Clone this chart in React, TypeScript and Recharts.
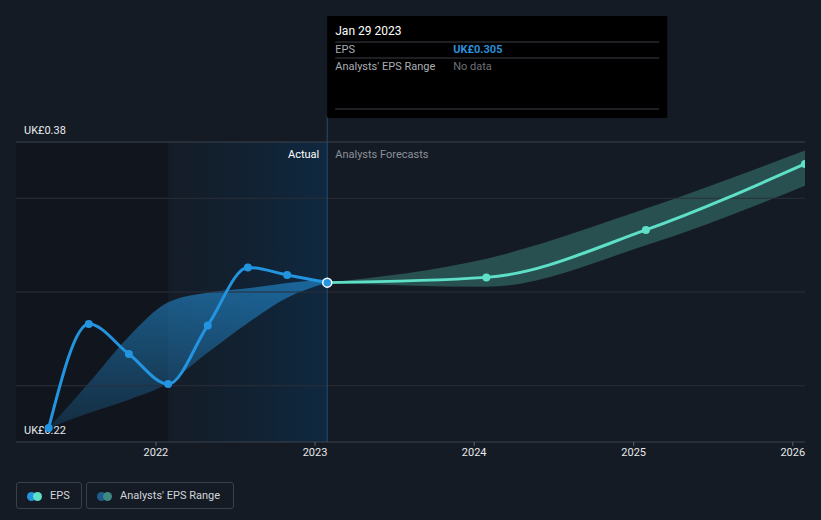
import React from 'react';
import { ComposedChart, Line, Area, XAxis, YAxis, ReferenceLine, ReferenceArea } from 'recharts';

// ---- data ----
const actualDates = ['2021-04-30', '2021-07-31', '2021-10-31', '2022-01-29', '2022-04-30', '2022-07-31', '2022-10-29', '2023-01-29'];
const actualEps = [0.2275, 0.2829, 0.2669, 0.2509, 0.2822, 0.3131, 0.3091, 0.305];
const actualRangeLow = [0.2275, 0.2355, 0.2426, 0.2515, 0.2678, 0.2835, 0.2970, 0.305];
const actualRangeHigh = [0.2275, 0.2515, 0.2763, 0.2945, 0.2996, 0.3020, 0.3048, 0.307];

const forecastDates = ['2023-01-29', '2024-01-29', '2025-01-29', '2026-01-29'];
const forecastEps = [0.305, 0.3078, 0.3331, 0.3683];
const forecastLow = [0.305, 0.3028, 0.3249, 0.3567];
const forecastHigh = [0.305, 0.3178, 0.3445, 0.3755];

const yearTicks = ['2022-01-01', '2023-01-01', '2024-01-01', '2025-01-01', '2026-01-01'];
const gridValues = [0.25, 0.3, 0.35];
const yTop = 0.38;
const yBottom = 0.22;
const xStart = '2021-02-14';
const xEnd = '2026-01-29';
const pastShadeStart = '2022-01-29';
const todayDate = '2023-01-29';

const ts = (d: string) => Date.parse(d + 'T00:00:00Z');

type Row = { t: number; eps?: number; fc?: number; actRange?: [number, number]; fcRange?: [number, number] };

const rowMap = new Map<number, Row>();
const getRow = (d: string) => {
  const t = ts(d);
  if (!rowMap.has(t)) rowMap.set(t, { t });
  return rowMap.get(t)!;
};
actualDates.forEach((d, i) => {
  const r = getRow(d);
  r.eps = actualEps[i];
  r.actRange = [actualRangeLow[i], actualRangeHigh[i]];
});
forecastDates.forEach((d, i) => {
  const r = getRow(d);
  r.fc = forecastEps[i];
  r.fcRange = [forecastLow[i], forecastHigh[i]];
});
const data = Array.from(rowMap.values()).sort((a, b) => a.t - b.t);

const FONT = 'Roboto, "Noto Sans", sans-serif';
const BLUE = '#2394df';
const TEAL = '#5ee0c8';
const BG = '#151b24';

const YLabel = (props: any) => {
  const vb = props.viewBox || {};
  return (
    <text x={vb.x + 8} y={vb.y - 8} fill="#e8eaee" fontSize={11} fontFamily={FONT}>
      {props.text}
    </text>
  );
};

const TodayMarker = (props: any) => {
  const vb = props.viewBox || {};
  const x = vb.x;
  const top = vb.y;
  const by = top - 126;
  return (
    <g fontFamily={FONT}>
      <line x1={x} x2={x} y1={by + 100} y2={top} stroke="#1f4e75" strokeWidth={1} />
      <text x={x - 8} y={top + 16} fill="#ffffff" fontSize={11} textAnchor="end">Actual</text>
      <text x={x + 8} y={top + 16} fill="#8b9099" fontSize={11}>Analysts Forecasts</text>
      <rect x={x} y={by} width={340} height={102} fill="#000000" />
      <text x={x + 8} y={by + 19} fill="#ffffff" fontSize={12}>Jan 29 2023</text>
      <line x1={x + 8} x2={x + 332} y1={by + 26} y2={by + 26} stroke="#3c3f44" />
      <text x={x + 8} y={by + 37} fill="#a9adb3" fontSize={11}>EPS</text>
      <text x={x + 126} y={by + 37} fill="#2a8fdc" fontSize={11} fontWeight="bold">UK£0.305</text>
      <line x1={x + 8} x2={x + 332} y1={by + 42} y2={by + 42} stroke="#3c3f44" />
      <text x={x + 8} y={by + 54} fill="#a9adb3" fontSize={11}>Analysts' EPS Range</text>
      <text x={x + 126} y={by + 54} fill="#6d7178" fontSize={11}>No data</text>
      <line x1={x + 8} x2={x + 332} y1={by + 93} y2={by + 93} stroke="#3c3f44" />
    </g>
  );
};

const makeDot = (color: string, highlightT?: number) => (props: any) => {
  const { cx, cy, payload, index } = props;
  if (cx == null || cy == null) return <g key={`d-${index}`} />;
  if (highlightT !== undefined && payload && payload.t === highlightT) {
    return <circle key={`d-${index}`} cx={cx} cy={cy} r={4.5} fill={color} stroke="#ffffff" strokeWidth={1.5} />;
  }
  return <circle key={`d-${index}`} cx={cx} cy={cy} r={4} fill={color} stroke="none" />;
};

const legendBox: React.CSSProperties = {
  position: 'absolute',
  top: 482,
  height: 27,
  boxSizing: 'border-box',
  border: '1px solid #3a404b',
  borderRadius: 3,
  fontFamily: FONT,
  fontSize: 11,
  color: '#d2d5da',
};

const dotStyle = (left: number, color: string): React.CSSProperties => ({
  position: 'absolute',
  left,
  top: 8.5,
  width: 9,
  height: 9,
  borderRadius: '50%',
  background: color,
});

export default function App() {
  return (
    <div style={{ position: 'absolute', left: 0, top: 0, width: 821, height: 520, background: BG, overflow: 'hidden' }}>
      <ComposedChart
        width={821}
        height={520}
        data={data}
        margin={{ top: 142, right: 16, bottom: 48, left: 16 }}
        style={{ fontFamily: FONT }}
      >
        <defs>
          <linearGradient id="actGrad" x1="0" y1="0" x2="0" y2="1">
            <stop offset="0%" stopColor={BLUE} stopOpacity={0.58} />
            <stop offset="100%" stopColor={BLUE} stopOpacity={0.18} />
          </linearGradient>
          <linearGradient id="pastGrad" x1="0" y1="0" x2="1" y2="0">
            <stop offset="0%" stopColor="#0b2a47" stopOpacity={0.08} />
            <stop offset="100%" stopColor="#0b3152" stopOpacity={0.62} />
          </linearGradient>
        </defs>
        <XAxis
          dataKey="t"
          type="number"
          domain={[ts(xStart), ts(xEnd)]}
          ticks={yearTicks.map(ts)}
          tickFormatter={(v: number) => String(new Date(v).getUTCFullYear())}
          allowDataOverflow
          height={30}
          stroke="#3d424c"
          tickSize={4}
          tickLine={{ stroke: '#5a5f68' }}
          tick={{ fill: '#e6e8eb', fontSize: 11, fontFamily: FONT }}
        />
        <YAxis hide type="number" domain={[yBottom, yTop]} allowDataOverflow />
        <ReferenceArea x1={ts(xStart)} x2={ts(pastShadeStart)} fill="#000000" fillOpacity={0.16} stroke="none" ifOverflow="hidden" />
        <ReferenceArea x1={ts(pastShadeStart)} x2={ts(todayDate)} fill="url(#pastGrad)" fillOpacity={1} stroke="none" ifOverflow="hidden" />
        {gridValues.map((v) => (
          <ReferenceLine key={v} y={v} stroke="#2a2f38" strokeWidth={1} />
        ))}
        <ReferenceLine y={yTop} stroke="#3d424c" strokeWidth={1} label={<YLabel text="UK£0.38" />} />
        <ReferenceLine y={yBottom} stroke="none" label={<YLabel text="UK£0.22" />} />
        <ReferenceLine x={ts(todayDate)} stroke="#1f4e75" strokeWidth={1} label={<TodayMarker />} />
        <Area
          dataKey="actRange"
          type="monotone"
          stroke="none"
          fill="url(#actGrad)"
          fillOpacity={1}
          isAnimationActive={false}
          dot={false}
          activeDot={false}
        />
        <Area
          dataKey="fcRange"
          type="monotone"
          stroke="none"
          fill={TEAL}
          fillOpacity={0.27}
          isAnimationActive={false}
          dot={false}
          activeDot={false}
        />
        <Line
          dataKey="fc"
          type="monotone"
          stroke={TEAL}
          strokeWidth={3}
          dot={makeDot(TEAL)}
          activeDot={false}
          isAnimationActive={false}
        />
        <Line
          dataKey="eps"
          type="monotone"
          stroke={BLUE}
          strokeWidth={3}
          dot={makeDot(BLUE, ts(todayDate))}
          activeDot={false}
          isAnimationActive={false}
        />
      </ComposedChart>
      <div style={{ ...legendBox, left: 16, width: 66 }}>
        <div style={dotStyle(10, BLUE)} />
        <div style={dotStyle(16, TEAL)} />
        <div style={{ position: 'absolute', left: 33, top: 0, lineHeight: '25px' }}>EPS</div>
      </div>
      <div style={{ ...legendBox, left: 86, width: 148 }}>
        <div style={dotStyle(10, '#1f5e8c')} />
        <div style={dotStyle(16, '#3d8a82')} />
        <div style={{ position: 'absolute', left: 33, top: 0, lineHeight: '25px' }}>Analysts' EPS Range</div>
      </div>
    </div>
  );
}
